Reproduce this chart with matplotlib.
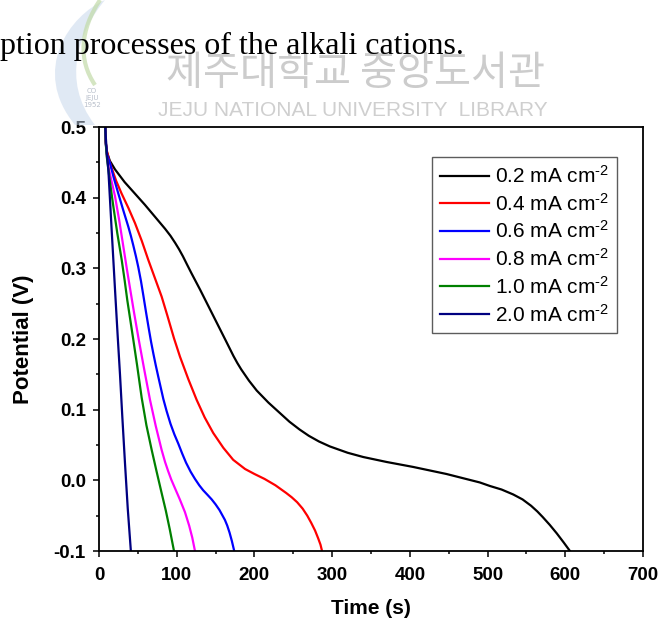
import matplotlib
matplotlib.use("Agg")
import matplotlib.pyplot as plt
from matplotlib.patches import PathPatch
from matplotlib.path import Path

plt.rcParams["mathtext.fontset"] = "custom"
plt.rcParams["mathtext.rm"] = "Liberation Sans"
plt.rcParams["mathtext.it"] = "Liberation Sans:italic"
plt.rcParams["mathtext.bf"] = "Liberation Sans:bold"

# Galvanostatic discharge curves at several current densities
labels = [r"0.2 mA cm$^{\text{-2}}$", r"0.4 mA cm$^{\text{-2}}$", r"0.6 mA cm$^{\text{-2}}$",
          r"0.8 mA cm$^{\text{-2}}$", r"1.0 mA cm$^{\text{-2}}$", r"2.0 mA cm$^{\text{-2}}$"]
colors = ["#000000", "#ff0000", "#0000ff", "#ff00ff", "#008000", "#000080"]

t_02 = [7.5, 8.5, 10, 14, 20.6, 33, 46, 59, 72, 85, 92, 98, 103, 108, 113, 119,
        130, 141, 152, 163, 168, 173, 178, 183, 188, 193, 198, 203, 218, 233,
        245, 258, 270, 283, 297, 320, 340, 370, 404, 447, 490, 503, 518, 533,
        545, 556, 564, 571, 580, 589, 598, 606]
v_02 = [0.53, 0.48, 0.465, 0.452, 0.440, 0.422, 0.406, 0.390, 0.373, 0.356,
        0.346, 0.336, 0.327, 0.317, 0.306, 0.293, 0.270, 0.246, 0.222, 0.198,
        0.187, 0.176, 0.166, 0.157, 0.149, 0.141, 0.134, 0.127, 0.110, 0.095,
        0.083, 0.072, 0.063, 0.055, 0.048, 0.039, 0.033, 0.026, 0.019, 0.009,
        -0.003, -0.008, -0.013, -0.020, -0.027, -0.036, -0.044, -0.052,
        -0.063, -0.075, -0.088, -0.100]

t_04 = [7.5, 8.5, 10, 13, 16.3, 22, 29, 38, 46.3, 55, 63.4, 72, 80.6, 88, 96.5,
        104.2, 115, 125.6, 136, 147, 160, 172.7, 188, 200, 213, 227, 241, 248,
        255, 262, 268, 273, 278, 282, 285, 287]
v_04 = [0.53, 0.48, 0.467, 0.453, 0.442, 0.424, 0.406, 0.385, 0.364, 0.339,
        0.312, 0.286, 0.260, 0.233, 0.201, 0.175, 0.143, 0.114, 0.089, 0.067,
        0.046, 0.029, 0.016, 0.009, 0.002, -0.007, -0.018, -0.024, -0.031,
        -0.040, -0.050, -0.060, -0.071, -0.082, -0.091, -0.100]

t_06 = [7.5, 8.5, 10, 14.1, 19, 24.8, 31, 37.7, 41, 44, 47.5, 50.5, 54, 57,
        60.5, 64, 67, 70, 73, 76, 79.5, 82.8, 87, 92, 97, 102, 107, 112, 118,
        123.5, 129, 134, 140, 145, 150, 155, 159, 162, 165, 168, 171, 174]
v_06 = [0.53, 0.48, 0.462, 0.449, 0.428, 0.406, 0.383, 0.359, 0.346, 0.333,
        0.317, 0.302, 0.282, 0.262, 0.238, 0.215, 0.196, 0.179, 0.163, 0.148,
        0.131, 0.115, 0.098, 0.080, 0.065, 0.052, 0.038, 0.025, 0.012, 0.002,
        -0.007, -0.014, -0.021, -0.027, -0.034, -0.042, -0.050, -0.056,
        -0.064, -0.074, -0.086, -0.100]

t_08 = [7.5, 8.5, 10, 12, 16, 20.6, 26, 31.3, 36, 40.5, 45, 51, 58, 65.6, 73,
        80.6, 85, 89, 93, 97.7, 104, 110.6, 116, 120, 123.5]
v_08 = [0.53, 0.48, 0.46, 0.444, 0.424, 0.402, 0.368, 0.331, 0.298, 0.268,
        0.238, 0.200, 0.158, 0.114, 0.077, 0.043, 0.026, 0.013, 0.001, -0.011,
        -0.027, -0.045, -0.064, -0.081, -0.100]

t_10 = [7.5, 8.5, 10, 12, 15, 18.4, 23.5, 29.2, 33, 36.4, 40, 44, 49, 54.9, 61,
        67.8, 74, 80.6, 86, 91, 96.5]
v_10 = [0.53, 0.48, 0.458, 0.44, 0.415, 0.388, 0.350, 0.312, 0.283, 0.255,
        0.229, 0.200, 0.163, 0.117, 0.078, 0.043, 0.013, -0.018, -0.043,
        -0.069, -0.100]

t_20 = [7, 8.5, 10, 12, 16, 20.6, 24, 27, 30, 33.4, 37, 41]
v_20 = [0.53, 0.49, 0.465, 0.44, 0.36, 0.27, 0.205, 0.150, 0.090, 0.025,
        -0.040, -0.100]

times = [t_02, t_04, t_06, t_08, t_10, t_20]
volts = [v_02, v_04, v_06, v_08, v_10, v_20]

W, H = 659, 618
fig = plt.figure(figsize=(W / 100, H / 100), dpi=100)


def fx(px):
    return px / W


def fy(py):
    return 1 - py / H


# Library watermark and emblem behind the page text
emblem = Path([(fx(75), fy(125)), (fx(30), fy(70)), (fx(70), fy(15)), (fx(105), fy(0)),
               (fx(80), fy(30)), (fx(60), fy(80)), (fx(95), fy(125)), (fx(75), fy(125))],
              [Path.MOVETO, Path.CURVE4, Path.CURVE4, Path.CURVE4,
               Path.CURVE4, Path.CURVE4, Path.CURVE4, Path.CLOSEPOLY])
fig.patches.append(PathPatch(emblem, transform=fig.transFigure,
                             facecolor="#c3d4ea", edgecolor="none", alpha=0.5))
green = Path([(fx(100), fy(0)), (fx(80), fy(30)), (fx(78), fy(60)), (fx(95), fy(85))],
             [Path.MOVETO, Path.CURVE4, Path.CURVE4, Path.CURVE4])
fig.patches.append(PathPatch(green, transform=fig.transFigure, facecolor="none",
                             edgecolor="#c2dba8", lw=3, alpha=0.7))
fig.text(fx(92), fy(98), "CO\nJEJU\n1952", ha="center", va="center", fontsize=5,
         color="#b8bfca", family="DejaVu Sans", linespacing=1.2)
fig.text(fx(355), fy(74), "제주대학교 중앙도서관", ha="center", va="center",
         fontsize=29, color="#cccccc", family=["Noto Sans CJK KR", "DejaVu Sans"])
fig.text(fx(353), fy(110), "JEJU NATIONAL UNIVERSITY  LIBRARY", ha="center",
         va="center", fontsize=15, color="#cfcfcf", family="Liberation Sans")

fig.text(fx(0), fy(54), "ption processes of the alkali cations.", ha="left",
         va="baseline", fontsize=23, color="black", family="Liberation Serif")

ax = fig.add_axes([fx(99), fy(551), fx(643) - fx(99), fy(127) - fy(551)])
ax.patch.set_alpha(0)

for t, v, c, lab in zip(times, volts, colors, labels):
    ax.plot(t, v, color=c, lw=1.6, label=lab, solid_joinstyle="round")

ax.set_xlim(0, 700)
ax.set_ylim(-0.1, 0.5)
ax.set_xticks([0, 100, 200, 300, 400, 500, 600, 700])
ax.set_xticks(range(50, 700, 100), minor=True)
ax.set_yticks([-0.1, 0.0, 0.1, 0.2, 0.3, 0.4, 0.5])
ax.set_yticks([-0.05, 0.05, 0.15, 0.25, 0.35, 0.45], minor=True)
ax.set_yticklabels(["-0.1", "0.0", "0.1", "0.2", "0.3", "0.4", "0.5"])

for s in ax.spines.values():
    s.set_linewidth(1.3)
ax.tick_params(which="both", direction="out", top=False, right=False, width=1.1)
ax.tick_params(which="major", length=4.5, labelsize=13.5, pad=5)
ax.tick_params(axis="x", which="major", pad=7)
ax.tick_params(which="minor", length=2.5)
for lbl in ax.get_xticklabels() + ax.get_yticklabels():
    lbl.set_fontweight("bold")
    lbl.set_family("Liberation Sans")

ax.set_xlabel("Time (s)", fontsize=15, fontweight="bold", family="Liberation Sans",
              labelpad=11)
ax.set_ylabel("Potential (V)", fontsize=16, fontweight="bold",
              family="Liberation Sans", labelpad=14)

leg = ax.legend(loc="upper right",
                bbox_to_anchor=((617 - 99) / 544, 1 - (157 - 127) / 424),
                bbox_transform=ax.transAxes,
                prop={"family": "Liberation Sans", "size": 15},
                frameon=True, fancybox=False, handlelength=2.35, handletextpad=0.3,
                labelspacing=0.28, borderpad=0.38, borderaxespad=0)
leg.get_frame().set_edgecolor("#333333")
leg.get_frame().set_linewidth(1.0)

fig.savefig("out.png", dpi=100)
